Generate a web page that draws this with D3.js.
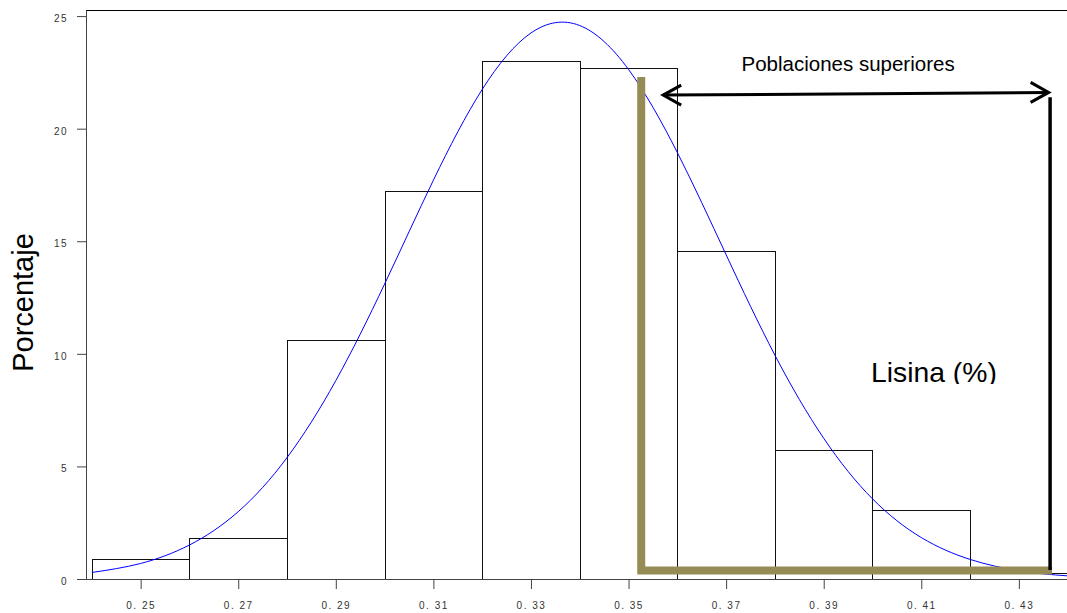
<!DOCTYPE html>
<html>
<head>
  <title>Histograma Lisina</title>
  <script src="https://d3js.org/d3.v7.min.js"></script>
  <style>
    body { margin: 0; background: #fff; }
    svg { display: block; font-family: "Liberation Sans", Arial, sans-serif; }
    .tick text { font-size: 10px; fill: #333; letter-spacing: 1.5px; }
    .tick line, .domain { stroke: #444; }
  </style>
</head>
<body>
  <svg id="chart"></svg>
  <script>
    // histogram bins (centre of each bin, % of cases)
    const binCenters = [0.25, 0.27, 0.29, 0.31, 0.33, 0.35, 0.37, 0.39, 0.41, 0.43];
    const binWidth = 0.02;
    const percents = [0.88, 1.81, 10.6, 17.25, 23.0, 22.7, 14.55, 5.75, 3.05, 0.28];

    // fitted normal curve
    const curveX = [0.24, 0.25, 0.26, 0.27, 0.28, 0.29, 0.30, 0.31, 0.32, 0.33, 0.34,
                    0.35, 0.36, 0.37, 0.38, 0.39, 0.40, 0.41, 0.42, 0.43, 0.44, 0.45];
    const curveY = [0.29, 0.69, 1.51, 2.99, 5.39, 8.81, 13.1, 17.71, 21.74, 24.25, 24.58,
                    22.63, 18.94, 14.4, 9.94, 6.25, 3.56, 1.84, 0.87, 0.37, 0.14, 0.05];

    const xTicks = [0.25, 0.27, 0.29, 0.31, 0.33, 0.35, 0.37, 0.39, 0.41, 0.43];
    const xTickLabels = ["0. 25", "0. 27", "0. 29", "0. 31", "0. 33", "0. 35", "0. 37", "0. 39", "0. 41", "0. 43"];
    const yTicks = [0, 5, 10, 15, 20, 25];

    // annotations, in data units
    const khakiPath = [[0.3526, 22.3], [0.3526, 0.38], [0.4368, 0.38]];
    const arrowEnds = [[0.3571, 21.49], [0.4361, 21.61]];
    const limitLine = [[0.4364, 21.4], [0.4364, 0.4]];

    const W = 1067, H = 613;
    const plotLeft = 86, plotTop = 10, plotBottom = 579;
    const pxPerUnit = 4879; // px per 1.0 on x

    const svg = d3.select("#chart").attr("width", W).attr("height", H);

    const x = d3.scaleLinear()
      .domain([0.2388, 0.4488])
      .range([plotLeft, plotLeft + 0.21 * pxPerUnit]);
    const y = d3.scaleLinear()
      .domain([0, 25.27])
      .range([plotBottom, plotTop]);

    // top frame
    svg.append("line")
      .attr("x1", plotLeft).attr("x2", W + 10)
      .attr("y1", plotTop + 0.5).attr("y2", plotTop + 0.5)
      .attr("stroke", "#000");

    // bars
    svg.append("g").selectAll("rect")
      .data(binCenters)
      .join("rect")
        .attr("x", d => Math.round(x(d - binWidth / 2)) + 0.5)
        .attr("y", (d, i) => Math.round(y(percents[i])) + 0.5)
        .attr("width", d => Math.round(x(d + binWidth / 2)) - Math.round(x(d - binWidth / 2)))
        .attr("height", (d, i) => Math.round(y(0)) - Math.round(y(percents[i])))
        .attr("fill", "none")
        .attr("stroke", "#111")
        .attr("stroke-width", 1);

    // normal curve
    svg.append("path")
      .datum(curveX.map((v, i) => [v, curveY[i]]))
      .attr("fill", "none")
      .attr("stroke", "#0000ff")
      .attr("stroke-width", 1)
      .attr("d", d3.line().x(d => x(d[0])).y(d => y(d[1])).curve(d3.curveNatural));

    // axes
    svg.append("g")
      .attr("transform", `translate(0,${plotBottom})`)
      .call(d3.axisBottom(x).tickValues(xTicks).tickFormat((d, i) => xTickLabels[i])
        .tickSize(10).tickSizeOuter(0).tickPadding(13))
      .call(g => g.select(".domain").attr("d", `M${plotLeft - 9},0.5H${W + 10}`));

    svg.append("g")
      .attr("transform", `translate(${plotLeft},0)`)
      .call(d3.axisLeft(y).tickValues(yTicks).tickSize(9).tickSizeOuter(0).tickPadding(9))
      .call(g => g.selectAll(".tick text").attr("dy", "0.55em"));

    // y label
    svg.append("text")
      .attr("transform", `translate(33,${(plotTop + plotBottom) / 2 + 8}) rotate(-90)`)
      .attr("text-anchor", "middle")
      .attr("font-size", 29)
      .attr("fill", "#000")
      .text("Porcentaje");

    // annotations
    const line = d3.line().x(d => x(d[0])).y(d => y(d[1]));

    svg.append("path")
      .attr("d", line(khakiPath))
      .attr("fill", "none")
      .attr("stroke", "#978b55")
      .attr("stroke-width", 8)
      .attr("stroke-linejoin", "miter");

    svg.append("path")
      .attr("d", line(limitLine))
      .attr("fill", "none")
      .attr("stroke", "#000")
      .attr("stroke-width", 3.5);

    svg.append("path")
      .attr("d", line(arrowEnds))
      .attr("fill", "none")
      .attr("stroke", "#000")
      .attr("stroke-width", 3);

    // open chevron heads
    const [a0, a1] = arrowEnds.map(p => [x(p[0]), y(p[1])]);
    [[a0, 1], [a1, -1]].forEach(([p, dir]) => {
      svg.append("path")
        .attr("d", `M${p[0] + dir * 18},${p[1] - 10}L${p[0]},${p[1]}L${p[0] + dir * 18},${p[1] + 10}`)
        .attr("fill", "none")
        .attr("stroke", "#000")
        .attr("stroke-width", 3)
        .attr("stroke-linejoin", "miter");
    });

    svg.append("text")
      .attr("x", x(0.3950)).attr("y", y(22.58))
      .attr("text-anchor", "middle")
      .attr("font-size", 20.5)
      .attr("fill", "#000")
      .text("Poblaciones superiores");

    // label is cut at the bottom in the original
    svg.append("clipPath").attr("id", "cut")
      .append("rect")
        .attr("x", 0).attr("y", 0)
        .attr("width", W).attr("height", y(8.66));

    svg.append("text")
      .attr("x", x(0.3997)).attr("y", y(8.74))
      .attr("clip-path", "url(#cut)")
      .attr("font-size", 28.3)
      .attr("fill", "#000")
      .text("Lisina (%)");
  </script>
</body>
</html>
